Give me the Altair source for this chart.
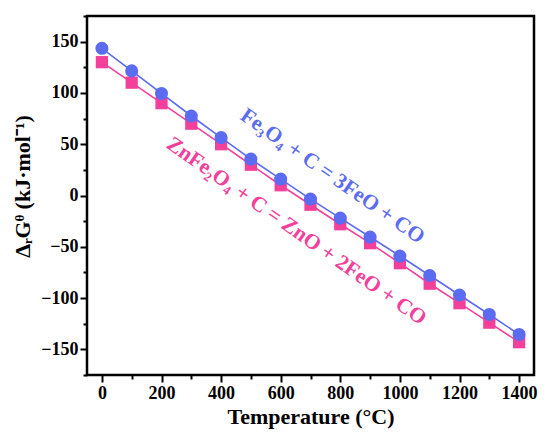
import altair as alt
import pandas as pd

temps = [0, 100, 200, 300, 400, 500, 600, 700, 800, 900, 1000, 1100, 1200, 1300, 1400]
fe3o4 = [143.5, 121.5, 99.5, 77.5, 56.5, 35.5, 16, -3.5, -22, -40.5, -59, -78, -97, -116, -135.5]
znfe2o4 = [130, 110, 90, 70, 50, 30, 10, -9, -28, -46.5, -66, -86, -105, -124, -143]

x_major = [0, 200, 400, 600, 800, 1000, 1200, 1400]
x_minor = [100, 300, 500, 700, 900, 1100, 1300]
y_major = [-150, -100, -50, 0, 50, 100, 150]
y_minor = [-175, -125, -75, -25, 25, 75, 125, 175]

labels = ["Fe₃O₄ + C = 3FeO + CO", "ZnFe₂O₄ + C = ZnO + 2FeO + CO"]
label_x = [773, 652]
label_y = [18.5, -35]

BLUE = "#5B6CF0"
PINK = "#F2409B"
FONT = "Liberation Serif"

df_fe = pd.DataFrame({"T": temps, "G": fe3o4})
df_zn = pd.DataFrame({"T": temps, "G": znfe2o4})
df_lab = pd.DataFrame({"text": labels, "T": label_x, "G": label_y, "c": [BLUE, PINK]})

xs = alt.Scale(domain=[-50, 1450], nice=False, zero=False)
ys = alt.Scale(domain=[-175, 175], nice=False, zero=False)

x_main = alt.X("T:Q", scale=xs, axis=alt.Axis(values=x_major, title="Temperature (°C)", orient="bottom",
                                              format="d", tickSize=7, tickWidth=2, labelPadding=2, domain=False, grid=False))
y_main = alt.Y("G:Q", scale=ys, axis=alt.Axis(values=y_major, title="ΔᵣGᶿ (kJ·mol⁻¹)", orient="left",
                                              tickSize=7, tickWidth=2, labelPadding=2, domain=False, grid=False,
                                              titleY=170,
                                              labelExpr="datum.value < 0 ? '−' + abs(datum.value) : datum.label"))

x_min = alt.X("T:Q", scale=xs, axis=alt.Axis(values=x_minor, title=None, labels=False, orient="bottom",
                                             tickSize=4, tickWidth=2, domain=False, grid=False))
y_min = alt.Y("G:Q", scale=ys, axis=alt.Axis(values=y_minor, title=None, labels=False, orient="left",
                                             tickSize=4, tickWidth=2, domain=False, grid=False))

zn_line = alt.Chart(df_zn).mark_line(color=PINK, strokeWidth=1.6).encode(x=x_main, y=y_main)
zn_pts = alt.Chart(df_zn).mark_square(color=PINK, size=150, opacity=1).encode(x="T:Q", y="G:Q")
fe_line = alt.Chart(df_fe).mark_line(color=BLUE, strokeWidth=1.6).encode(x="T:Q", y="G:Q")
fe_pts = alt.Chart(df_fe).mark_circle(color=BLUE, size=170, opacity=1).encode(x="T:Q", y="G:Q")
texts = alt.Chart(df_lab).mark_text(font=FONT, fontSize=21.5, fontWeight="bold", angle=35,
                                    align="center", baseline="middle").encode(
    x="T:Q", y="G:Q", text="text:N", color=alt.Color("c:N", scale=None))

minor = alt.Chart(df_fe).mark_point(opacity=0).encode(x=x_min, y=y_min)

main = alt.layer(zn_line, zn_pts, fe_line, fe_pts, texts)
chart = alt.layer(main, minor).resolve_axis(x="independent", y="independent").properties(
    width=447, height=359,
    autosize=alt.AutoSizeParams(type="none"),
    padding={"left": 79, "top": 8, "right": 8, "bottom": 60},
).configure_view(stroke="black", strokeWidth=2.5).configure_axis(
    labelFont=FONT, titleFont=FONT, labelFontSize=18, titleFontSize=22,
    labelFontWeight="bold", titleFontWeight="bold", labelColor="black", titleColor="black",
    tickColor="black"
).configure_axisX(titlePadding=4).configure_axisY(titlePadding=6)

chart.save("out.html", embed_options={"renderer": "svg", "actions": False})
